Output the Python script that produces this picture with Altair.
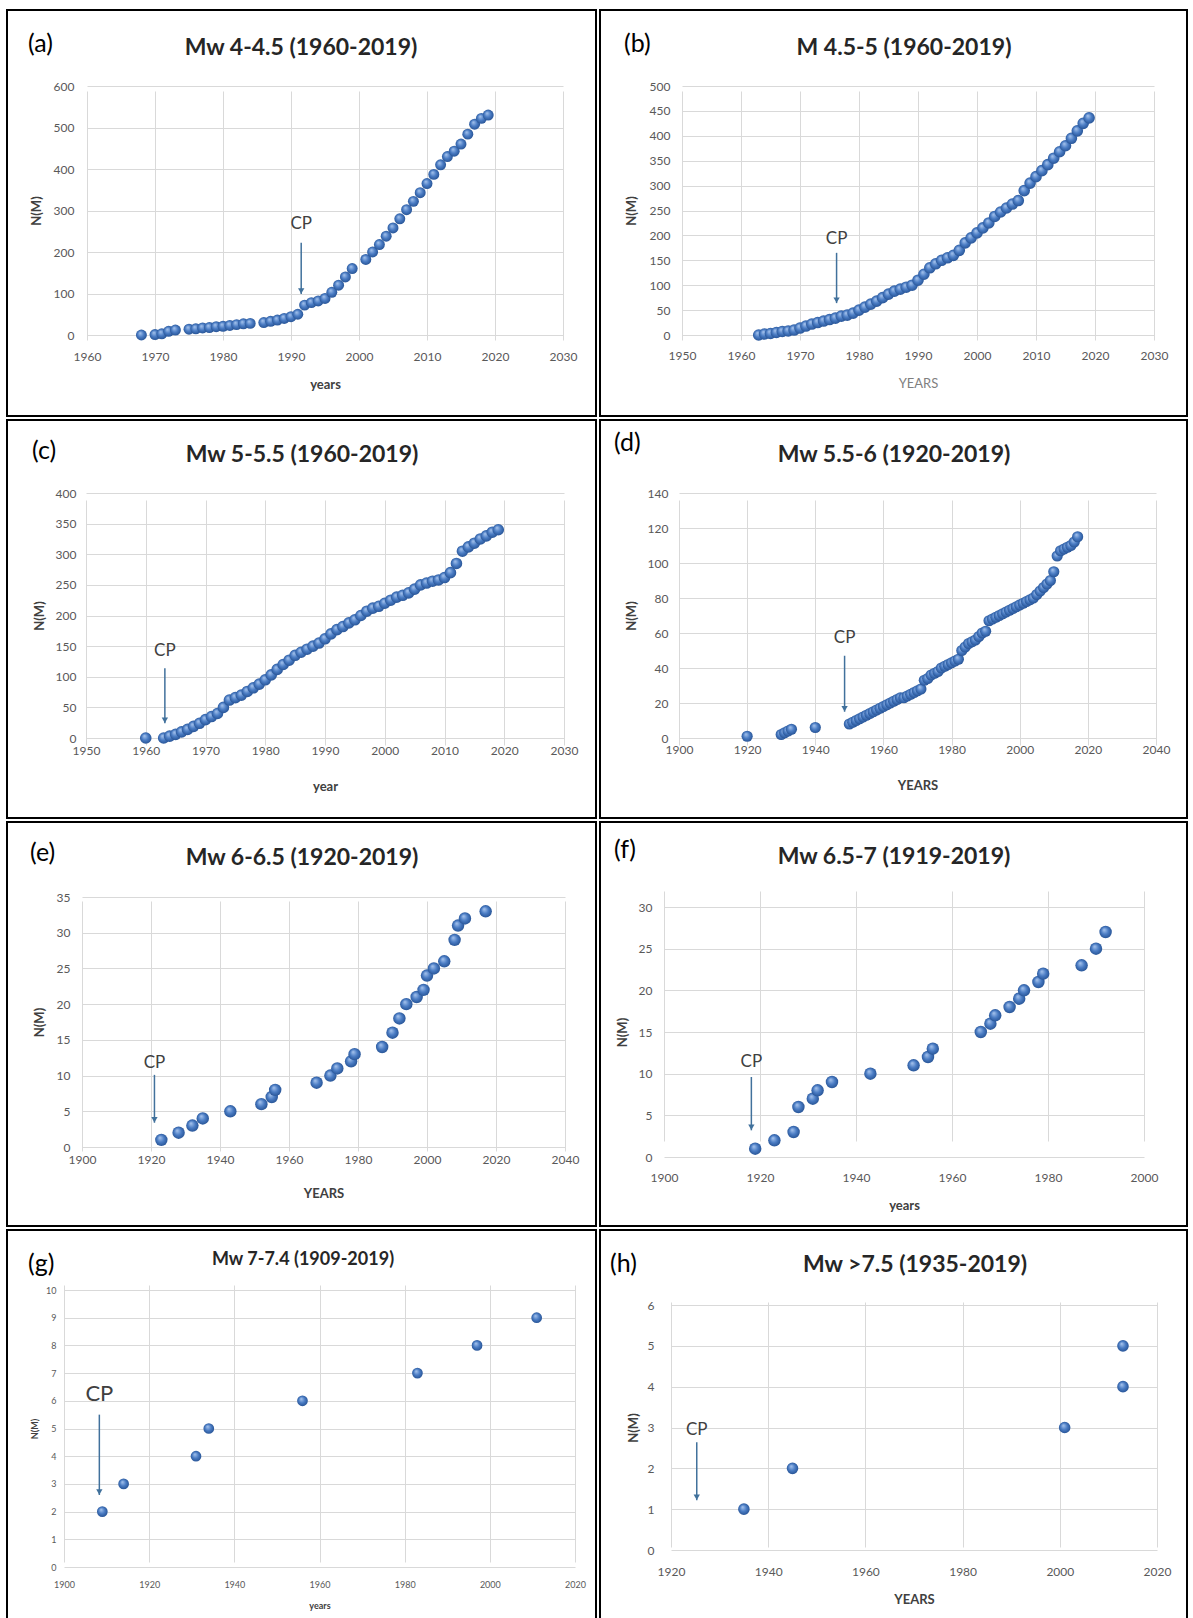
import altair as alt
import pandas as pd

FONT = "Lato"
ARROW = "#41719c"
GRID = "#d9d9d9"

# ---------------- data ----------------
a_years = [1968, 1970, 1971, 1972, 1973, 1975, 1976, 1977, 1978, 1979, 1980, 1981, 1982, 1983, 1984,
           1986, 1987, 1988, 1989, 1990, 1991, 1992, 1993, 1994, 1995, 1996, 1997, 1998, 1999,
           2001, 2002, 2003, 2004, 2005, 2006, 2007, 2008, 2009, 2010, 2011, 2012, 2013, 2014,
           2015, 2016, 2017, 2018, 2019]
a_n = [0, 1, 3, 9, 12, 14, 15, 17, 18, 20, 21, 23, 25, 27, 28,
       30, 33, 36, 40, 44, 50, 72, 78, 82, 88, 103, 120, 140, 160,
       182, 200, 218, 238, 258, 280, 302, 322, 343, 365, 387, 410, 430, 443,
       460, 484, 508, 522, 530]

b_years = [1963, 1964, 1965, 1966, 1967, 1968, 1969, 1970, 1971, 1972, 1973, 1974, 1975, 1976,
           1977, 1978, 1979, 1980, 1981, 1982, 1983, 1984, 1985, 1986, 1987, 1988, 1989, 1990,
           1991, 1992, 1993, 1994, 1995, 1996, 1997, 1998, 1999, 2000, 2001, 2002, 2003, 2004,
           2005, 2006, 2007, 2008, 2009, 2010, 2011, 2012, 2013, 2014, 2015, 2016, 2017, 2018, 2019]
b_n = [0, 2, 3, 5, 7, 8, 10, 14, 18, 22, 25, 28, 31, 34,
       38, 40, 44, 50, 56, 62, 68, 75, 82, 88, 92, 96, 100, 110,
       122, 135, 143, 150, 155, 160, 170, 185, 195, 205, 215, 225, 238, 247,
       255, 263, 270, 290, 305, 318, 330, 342, 355, 368, 380, 395, 410, 425, 436]

c_years = [1960, 1963, 1964, 1965, 1966, 1967, 1968, 1969, 1970, 1971, 1972, 1973, 1974, 1975,
           1976, 1977, 1978, 1979, 1980, 1981, 1982, 1983, 1984, 1985, 1986, 1987, 1988, 1989,
           1990, 1991, 1992, 1993, 1994, 1995, 1996, 1997, 1998, 1999, 2000, 2001, 2002, 2003,
           2004, 2005, 2006, 2007, 2008, 2009, 2010, 2011, 2012, 2013, 2014, 2015, 2016, 2017,
           2018, 2019]
c_n = [0, 0, 3, 6, 10, 14, 19, 24, 30, 35, 40, 50, 62, 66,
       70, 76, 82, 88, 95, 103, 112, 120, 127, 135, 140, 145, 150, 155,
       162, 170, 177, 182, 188, 193, 200, 207, 212, 215, 220, 225, 230, 233,
       237, 243, 250, 253, 256, 258, 262, 270, 285, 305, 312, 318, 325, 330,
       336, 340]

d_years = [1920, 1930, 1931, 1932, 1933, 1940, 1950, 1951, 1952, 1953, 1954, 1955, 1956, 1957,
           1958, 1959, 1960, 1961, 1962, 1963, 1964, 1965, 1966, 1967, 1968, 1969, 1970, 1971,
           1972, 1973, 1974, 1975, 1976, 1977, 1978, 1979, 1980, 1981, 1982, 1983, 1984, 1985,
           1986, 1987, 1988, 1989, 1990, 1991, 1992, 1993, 1994, 1995, 1996, 1997, 1998, 1999,
           2000, 2001, 2002, 2003, 2004, 2005, 2006, 2007, 2008, 2009, 2010, 2011, 2012, 2013,
           2014, 2015, 2016, 2017]
d_n = [1, 2, 3, 4, 5, 6, 8, 9, 10, 11, 12, 13, 14, 15,
       16, 17, 18, 19, 20, 21, 22, 23, 23, 24, 25, 26, 27, 28,
       33, 34, 36, 37, 38, 40, 41, 42, 43, 44, 45, 50, 52, 54,
       55, 56, 58, 60, 61, 67, 68, 69, 70, 71, 72, 73, 74, 75,
       76, 77, 78, 79, 80, 82, 84, 86, 88, 90, 95, 104, 107, 108,
       109, 110, 112, 115]

e_years = [1923, 1928, 1932, 1935, 1943, 1952, 1955, 1956, 1968, 1972, 1974, 1978, 1979,
           1987, 1990, 1992, 1994, 1997, 1999, 2000, 2002, 2005, 2008, 2009, 2011, 2017]
e_n = [1, 2, 3, 4, 5, 6, 7, 8, 9, 10, 11, 12, 13,
       14, 16, 18, 20, 21, 22, 24, 25, 26, 29, 31, 32, 33]

f_years = [1919, 1923, 1927, 1928, 1931, 1932, 1935, 1943, 1952, 1955, 1956,
           1966, 1968, 1969, 1972, 1974, 1975, 1978, 1979, 1987, 1990, 1992]
f_n = [1, 2, 3, 6, 7, 8, 9, 10, 11, 12, 13,
       15, 16, 17, 18, 19, 20, 21, 22, 23, 25, 27]

g_years = [1909, 1914, 1931, 1934, 1956, 1983, 1997, 2011]
g_n = [2, 3, 4, 5, 6, 7, 8, 9]

h_years = [1935, 1945, 2001, 2013, 2013]
h_n = [1, 2, 3, 4, 5]

# change-point arrows: year, label height, arrow top, arrow tip (in N(M) units)
cp_year = [1991.5, 1976.2, 1963.2, 1948.6, 1921.0, 1918.2, 1908.3, 1925.3]
cp_label_n = [267, 193, 142, 57, 11.8, 11.4, 6.25, 2.94]
cp_top_n = [222, 165, 114, 47, 10.1, 9.6, 5.5, 2.64]
cp_tip_n = [99, 64, 24, 15, 3.4, 3.2, 2.6, 1.22]

panel_labels = ["(a)", "(b)", "(c)", "(d)", "(e)", "(f)", "(g)", "(h)"]
panel_titles = ["Mw 4-4.5 (1960-2019)", "M 4.5-5 (1960-2019)", "Mw 5-5.5 (1960-2019)",
                "Mw 5.5-6 (1920-2019)", "Mw 6-6.5 (1920-2019)", "Mw 6.5-7 (1919-2019)",
                "Mw 7-7.4 (1909-2019)", "Mw >7.5 (1935-2019)"]
x_titles = ["years", "YEARS", "year", "YEARS", "YEARS", "years", "years", "YEARS"]

a_xticks = [1960, 1970, 1980, 1990, 2000, 2010, 2020, 2030]
a_yticks = [0, 100, 200, 300, 400, 500, 600]
b_xticks = [1950, 1960, 1970, 1980, 1990, 2000, 2010, 2020, 2030]
b_yticks = [0, 50, 100, 150, 200, 250, 300, 350, 400, 450, 500]
c_xticks = [1950, 1960, 1970, 1980, 1990, 2000, 2010, 2020, 2030]
c_yticks = [0, 50, 100, 150, 200, 250, 300, 350, 400]
d_xticks = [1900, 1920, 1940, 1960, 1980, 2000, 2020, 2040]
d_yticks = [0, 20, 40, 60, 80, 100, 120, 140]
e_xticks = [1900, 1920, 1940, 1960, 1980, 2000, 2020, 2040]
e_yticks = [0, 5, 10, 15, 20, 25, 30, 35]
f_xticks = [1900, 1920, 1940, 1960, 1980, 2000]
f_yticks = [0, 5, 10, 15, 20, 25, 30]
g_xticks = [1900, 1920, 1940, 1960, 1980, 2000, 2020]
g_yticks = [0, 1, 2, 3, 4, 5, 6, 7, 8, 9, 10]
h_xticks = [1920, 1940, 1960, 1980, 2000, 2020]
h_yticks = [0, 1, 2, 3, 4, 5, 6]

series = [(a_years, a_n), (b_years, b_n), (c_years, c_n), (d_years, d_n),
          (e_years, e_n), (f_years, f_n), (g_years, g_n), (h_years, h_n)]
xticks = [a_xticks, b_xticks, c_xticks, d_xticks, e_xticks, f_xticks, g_xticks, h_xticks]
yticks = [a_yticks, b_yticks, c_yticks, d_yticks, e_yticks, f_yticks, g_yticks, h_yticks]

# ---------------- layout / style (page pixels) ----------------
layout = [
    dict(box=(5, 8, 591, 408), plot=(86, 85, 476, 249), tc=(300, 47), tfs=23, lab=(27, 43), dot=120,
         xlp=16, xty=49, ylp=13, ytx=-51, fs=12, xbold=True, cpfs=17),
    dict(box=(596, 8, 589, 408), plot=(679, 85, 472, 249), tc=(901, 47), tfs=23, lab=(621, 43), dot=135,
         xlp=15, xty=48, ylp=12, ytx=-51, fs=12, xbold=False, cpfs=17),
    dict(box=(5, 416, 591, 400), plot=(85, 490, 478, 245), tc=(301, 452), tfs=23, lab=(31, 448), dot=135,
         xlp=7, xty=48, ylp=10, ytx=-47, fs=12, xbold=True, cpfs=17),
    dict(box=(596, 416, 589, 400), plot=(676, 490, 477, 245), tc=(891, 452), tfs=23, lab=(611, 440), dot=125,
         xlp=6, xty=47, ylp=11, ytx=-48, fs=12, xbold=True, cpfs=17),
    dict(box=(5, 816, 591, 406), plot=(81, 892, 483, 250), tc=(301, 853), tfs=23, lab=(29, 848), dot=155,
         xlp=7, xty=46, ylp=12, ytx=-43, fs=12, xbold=True, cpfs=17),
    dict(box=(596, 816, 589, 406), plot=(661, 902, 480, 250), tc=(891, 852), tfs=23, lab=(611, 845), dot=155,
         xlp=15, xty=48, ylp=12, ytx=-42, fs=12, xbold=True, cpfs=17),
    dict(box=(5, 1222, 591, 394), plot=(63, 1283, 511, 277), tc=(302, 1253), tfs=18, lab=(27, 1257), dot=115,
         xlp=13, xty=38, ylp=8, ytx=-30, fs=9, xbold=True, cpfs=22),
    dict(box=(596, 1222, 589, 394), plot=(668, 1298, 486, 245), tc=(912, 1258), tfs=23, lab=(607, 1257), dot=135,
         xlp=16, xty=49, ylp=17, ytx=-38, fs=12, xbold=True, cpfs=17),
]

GRAD = {
    "gradient": "radial",
    "x1": 0.38, "y1": 0.32, "r1": 0.02,
    "x2": 0.5, "y2": 0.5, "r2": 0.55,
    "stops": [
        {"offset": 0, "color": "#a4c2ec"},
        {"offset": 0.5, "color": "#4a7cc4"},
        {"offset": 1, "color": "#234f90"},
    ],
}

ONE = pd.DataFrame({"k": [0]})


def build(i):
    g = layout[i]
    bx, by, bw, bh = g["box"]
    px, py, pw, ph = g["plot"]
    L, T = px - bx, py - by          # plot area inside the panel box
    B = T + ph
    xt, yt = xticks[i], yticks[i]
    xs = alt.Scale(domain=[xt[0], xt[-1]], range=[L, L + pw], nice=False, zero=False)
    ys = alt.Scale(domain=[yt[0], yt[-1]], range=[B, T], nice=False, zero=False)
    tsize = 13 if g["fs"] >= 12 else 9
    xa = alt.Axis(values=xt, format="d", grid=True, gridColor=GRID, gridWidth=1, domain=False,
                  ticks=False, tickSize=0, labelColor="#595959", labelFont=FONT, labelFontSize=g["fs"],
                  labelPadding=g["xlp"], labelFlush=False, labelOverlap=False, offset=B - bh,
                  title=x_titles[i], titleFont=FONT, titleFontSize=tsize,
                  titleFontWeight="bold" if g["xbold"] else "normal",
                  titleColor="#404040" if g["xbold"] else "#7f7f7f",
                  titleBaseline="middle", titleAlign="center", titleX=L + pw / 2, titleY=g["xty"])
    ya = alt.Axis(values=yt, format="d", grid=True, gridColor=GRID, gridWidth=1, domain=False,
                  ticks=False, tickSize=0, labelColor="#595959", labelFont=FONT, labelFontSize=g["fs"],
                  labelPadding=g["ylp"], labelFlush=False, labelOverlap=False, offset=-L,
                  title="N(M)", titleFont=FONT, titleFontSize=tsize, titleFontWeight="bold",
                  titleColor="#404040", titleAngle=270, titleBaseline="middle", titleAlign="center",
                  titleX=g["ytx"], titleY=T + ph / 2)

    def X(f):
        return alt.X(f, type="quantitative", scale=xs, axis=xa)

    def Y(f):
        return alt.Y(f, type="quantitative", scale=ys, axis=ya)

    yrs, ns = series[i]
    df = pd.DataFrame({"year": yrs, "n": ns})
    cp = pd.DataFrame({"year": [cp_year[i]], "ty": [cp_label_n[i]], "top": [cp_top_n[i]],
                       "tip": [cp_tip_n[i]], "label": ["CP"]})

    border = alt.Chart(ONE).mark_rect(fillOpacity=0, stroke="black", strokeWidth=2).encode(
        x=alt.value(1), x2=alt.value(bw - 1), y=alt.value(1), y2=alt.value(bh - 1))
    pts = alt.Chart(df).mark_circle(size=g["dot"], opacity=1, color=GRAD).encode(x=X("year"), y=Y("n"))
    rule = alt.Chart(cp).mark_rule(color=ARROW, strokeWidth=1.5).encode(
        x=X("year"), y=Y("top"), y2=alt.Y2("tip"))
    head = alt.Chart(cp).mark_point(shape="triangle-down", filled=True, size=40, color=ARROW,
                                    opacity=1, yOffset=-3).encode(x=X("year"), y=Y("tip"))
    cpt = alt.Chart(cp).mark_text(font=FONT, fontSize=g["cpfs"], color="#404040",
                                  baseline="middle").encode(x=X("year"), y=Y("ty"), text="label:N")
    lx, ly = g["lab"]
    lab = alt.Chart(ONE).mark_text(font=FONT, fontSize=25, color="black", align="left",
                                   baseline="middle").encode(
        x=alt.value(lx - bx), y=alt.value(ly - by), text=alt.value(panel_labels[i]))
    tx, ty = g["tc"]
    ttl = alt.Chart(ONE).mark_text(font=FONT, fontSize=g["tfs"], fontWeight="bold", color="#262626",
                                   align="center", baseline="middle").encode(
        x=alt.value(tx - bx), y=alt.value(ty - by), text=alt.value(panel_titles[i]))
    return alt.layer(border, pts, rule, head, cpt, lab, ttl).properties(width=bw, height=bh)


rows = [alt.hconcat(build(2 * r), build(2 * r + 1), spacing=0) for r in range(4)]
chart = alt.vconcat(*rows, spacing=0).properties(
    padding={"left": 5, "top": 8, "right": 0, "bottom": 0},
    background="white",
).configure_view(stroke="transparent")

chart.save("out.html", embed_options={"renderer": "svg", "actions": False})
